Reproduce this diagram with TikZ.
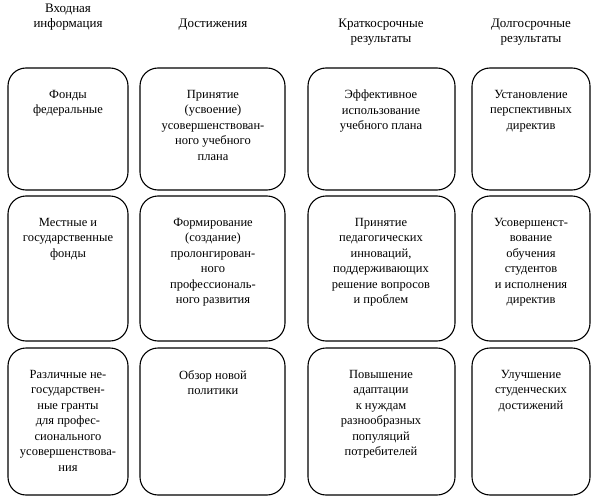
\documentclass[tikz,border=0pt]{standalone}
\usepackage{fontspec}
\setmainfont{Liberation Serif}
\begin{document}
\begin{tikzpicture}[x=1pt,y=-1pt,
  box/.style={draw,line width=1.1pt,rounded corners=18pt},
  txt/.style={anchor=north,align=center,font=\fontsize{12.5}{15.5}\selectfont,inner sep=0pt},
  hd/.style={anchor=north,align=center,font=\fontsize{13}{15}\selectfont,inner sep=0pt}]
\useasboundingbox (0,0) rectangle (600,503);
\node[hd] (h1) at (68,4) {Входная\\информация};
\node[hd] (h2) at (213,19) {Достижения};
\node[hd] (h3) at (381,19) {Краткосрочные\\результаты};
\node[hd] (h4) at (531,19) {Долгосрочные\\результаты};
% boxes
\foreach \n/\xa/\xb in {a/8/128,b/140/285,c/308/455,d/472/590}{
  \draw[box] (\xa,68) rectangle (\xb,190) node[pos=0.5] (\n1) {};
  \draw[box] (\xa,196) rectangle (\xb,341) node[pos=0.5] (\n2) {};
  \draw[box] (\xa,348) rectangle (\xb,495) node[pos=0.5] (\n3) {};
}
\node[txt] (t11) at (68,90) {Фонды\\федеральные};
\node[txt] (t12) at (68,218) {Местные и\\государственные\\фонды};
\node[txt] (t13) at (68,370) {Различные не-\\государствен-\\ные гранты\\для профес-\\сионального\\усовершенствова-\\ния};
\node[txt] (t21) at (213,90) {Принятие\\(усвоение)\\усовершенствован-\\ного учебного\\плана};
\node[txt] (t22) at (213,218) {Формирование\\(создание)\\пролонгирован-\\ного\\профессиональ-\\ного развития};
\node[txt] (t23) at (213,370) {Обзор новой\\политики};
\node[txt] (t31) at (381,90) {Эффективное\\использование\\учебного плана};
\node[txt] (t32) at (381,218) {Принятие\\педагогических\\инноваций,\\поддерживающих\\решение вопросов\\и проблем};
\node[txt] (t33) at (381,370) {Повышение\\адаптации\\к нуждам\\разнообразных\\популяций\\потребителей};
\node[txt] (t41) at (531,90) {Установление\\перспективных\\директив};
\node[txt] (t42) at (531,218) {Усовершенст-\\вование\\обучения\\студентов\\и исполнения\\директив};
\node[txt] (t43) at (531,370) {Улучшение\\студенческих\\достижений};
\end{tikzpicture}
\end{document}
